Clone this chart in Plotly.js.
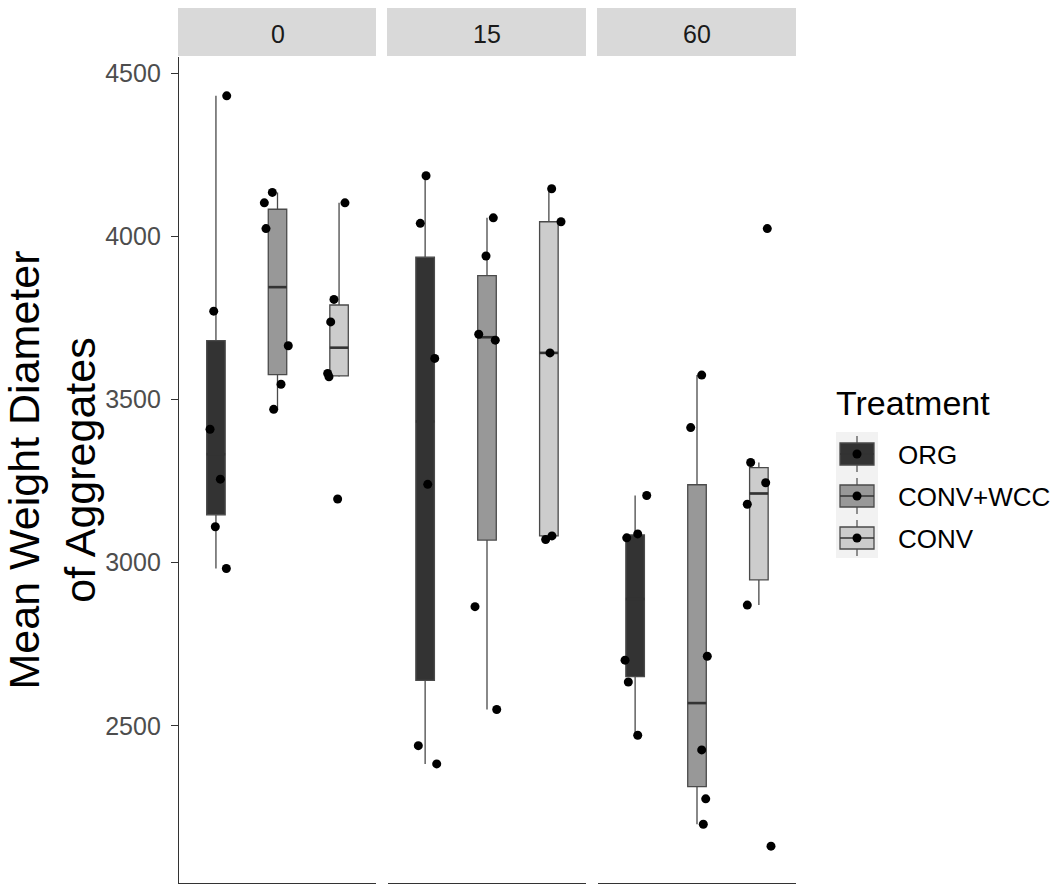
<!DOCTYPE html>
<html><head><meta charset="utf-8">
<script src="https://cdn.plot.ly/plotly-3.0.1.min.js"></script>
<style>html,body{margin:0;padding:0;background:#fff}</style>
</head><body><div id="chart" style="width:1060px;height:885px"></div>
<script>
// ---- data ----
const periods = ["0", "15", "60"];
const treatments = ["ORG", "CONV+WCC", "CONV"];

// Mean weight diameter of aggregates, one list per period (0, 15, 60)
const mwd_ORG = [
  [4431, 3771, 3409, 3256, 3110, 2982],
  [4186, 4040, 3626, 3240, 2439, 2383],
  [3206, 3076, 3088, 2701, 2634, 2471]
];
const mwd_WCC = [
  [4103, 4135, 4024, 3665, 3547, 3470],
  [4057, 3940, 3700, 3682, 2865, 2550],
  [3575, 3414, 2713, 2426, 2276, 2198]
];
const mwd_CONV = [
  [4103, 3807, 3738, 3580, 3570, 3195],
  [4146, 4045, 3643, 3071, 3082],
  [4024, 3307, 3245, 3179, 2870, 2131]
];
// horizontal jitter of each point (category units)
const jit_ORG = [
  [0.175, -0.036, -0.096, 0.072, -0.010, 0.169],
  [0.015, -0.078, 0.155, 0.042, -0.110, 0.187],
  [0.187, -0.136, 0.042, -0.163, -0.110, 0.042]
];
const jit_WCC = [
  [-0.214, -0.084, -0.187, 0.175, 0.057, -0.062],
  [0.102, -0.016, -0.134, 0.134, -0.194, 0.157],
  [0.076, -0.102, 0.166, 0.076, 0.141, 0.102]
];
const jit_CONV = [
  [0.096, -0.083, -0.136, -0.185, -0.164, -0.023],
  [0.045, 0.196, 0.018, -0.052, 0.050],
  [0.136, -0.133, 0.110, -0.187, -0.187, 0.196]
];
const yTicks = [2500, 3000, 3500, 4000, 4500];

// ---- styles ----
const FONT = "Liberation Sans, Arial, sans-serif";
const fills = ["#333333", "#989898", "#CCCCCC"];
const LINE = "#333333";
const BOXLINE = "#4A4A4A";
const BOXW = 0.3;

const values = [mwd_ORG, mwd_WCC, mwd_CONV];
const jitters = [jit_ORG, jit_WCC, jit_CONV];

function q7(s, p) {
  const h = (s.length - 1) * p, lo = Math.floor(h), hi = Math.ceil(h);
  return s[lo] + (h - lo) * (s[hi] - s[lo]);
}
function stats(v) {
  const s = v.slice().sort((a, b) => a - b);
  const q1 = q7(s, 0.25), med = q7(s, 0.5), q3 = q7(s, 0.75), iqr = q3 - q1;
  const lo = Math.min(...s.filter(d => d >= q1 - 1.5 * iqr));
  const hi = Math.max(...s.filter(d => d <= q3 + 1.5 * iqr));
  return {q1, med, q3, lo, hi};
}

const axNames = ["x", "x2", "x3"];
const traces = [];
periods.forEach((p, pi) => {
  treatments.forEach((t, ti) => {
    const v = values[ti][pi];
    const st = stats(v);
    traces.push({
      type: "box", x: [ti + 1], q1: [st.q1], median: [st.med], q3: [st.q3],
      lowerfence: [st.lo], upperfence: [st.hi],
      xaxis: axNames[pi], yaxis: "y", width: BOXW, whiskerwidth: 0,
      fillcolor: fills[ti], line: {color: BOXLINE, width: 1.3},
      boxpoints: false, showlegend: false, hoverinfo: "skip", name: t
    });
    // thicker median bar, as ggplot draws it
    traces.push({
      type: "scatter", mode: "lines",
      x: [ti + 1 - BOXW / 2, ti + 1 + BOXW / 2], y: [st.med, st.med],
      xaxis: axNames[pi], yaxis: "y", line: {color: LINE, width: 2.6},
      showlegend: false, hoverinfo: "skip", name: t + " median"
    });
  });
  treatments.forEach((t, ti) => {
    const v = values[ti][pi];
    traces.push({
      type: "scatter", mode: "markers",
      x: v.map((d, i) => ti + 1 + jitters[ti][pi][i]), y: v,
      xaxis: axNames[pi], yaxis: "y",
      marker: {color: "#000000", size: 9}, showlegend: false, name: t
    });
  });
});

// ---- layout helpers (pixel -> paper) ----
const L = 179, R = 796, T = 57, B = 883;
const PX = px => (px - L) / (R - L);
const PY = py => (B - py) / (B - T);
const panelPx = [[179, 376], [388, 586], [598, 796]];

const shapes = [], annotations = [];
periods.forEach((p, pi) => {
  const [a, b] = panelPx[pi];
  shapes.push({type: "rect", xref: "paper", yref: "paper", x0: PX(a - 1), x1: PX(b), y0: PY(56), y1: PY(8),
    fillcolor: "#D9D9D9", line: {width: 0}});
  annotations.push({xref: "paper", yref: "paper", x: PX((a + b) / 2), y: PY(34), text: p, showarrow: false,
    xanchor: "center", yanchor: "middle", font: {family: FONT, size: 25, color: "#1A1A1A"}});
});

// legend (drawn by hand to match the key glyphs)
annotations.push({xref: "paper", yref: "paper", x: PX(834), y: PY(403), text: "Treatment", showarrow: false,
  xanchor: "left", yanchor: "middle", font: {family: FONT, size: 34, color: "#000000"}});
shapes.push({type: "rect", xref: "paper", yref: "paper", x0: PX(836), x1: PX(878), y0: PY(558), y1: PY(432),
  fillcolor: "#F2F2F2", line: {width: 0}});
treatments.forEach((t, ti) => {
  const top = 432 + ti * 42, cy = top + 22, cx = 857;
  shapes.push({type: "line", xref: "paper", yref: "paper", x0: PX(cx), x1: PX(cx), y0: PY(top + 4), y1: PY(top + 40),
    line: {color: BOXLINE, width: 1.2}});
  shapes.push({type: "rect", xref: "paper", yref: "paper", x0: PX(840), x1: PX(874), y0: PY(cy + 11), y1: PY(cy - 11),
    fillcolor: fills[ti], line: {color: BOXLINE, width: 1.3}});
  shapes.push({type: "line", xref: "paper", yref: "paper", x0: PX(840), x1: PX(874), y0: PY(cy), y1: PY(cy),
    line: {color: LINE, width: 1.6}});
  shapes.push({type: "circle", xref: "paper", yref: "paper", x0: PX(cx - 4.5), x1: PX(cx + 4.5), y0: PY(cy + 4.5), y1: PY(cy - 4.5),
    fillcolor: "#000000", line: {width: 0}});
  annotations.push({xref: "paper", yref: "paper", x: PX(896), y: PY(cy + 1), text: t, showarrow: false,
    xanchor: "left", yanchor: "middle", font: {family: FONT, size: 26, color: "#000000"}});
});

const xBase = {range: [0.4, 3.6], showticklabels: false, ticks: "", showgrid: false, zeroline: false,
  showline: true, linecolor: LINE, linewidth: 1.2, anchor: "y", fixedrange: true};

const layout = {
  width: 1060, height: 885,
  margin: {l: L, r: 1060 - R, t: T, b: 885 - B},
  paper_bgcolor: "#FFFFFF", plot_bgcolor: "#FFFFFF",
  showlegend: false, font: {family: FONT},
  xaxis: Object.assign({}, xBase, {domain: [PX(179), PX(376)]}),
  xaxis2: Object.assign({}, xBase, {domain: [PX(388), PX(586)]}),
  xaxis3: Object.assign({}, xBase, {domain: [PX(598), PX(796)]}),
  yaxis: {
    range: [2018, 4550], tickvals: yTicks, ticktext: yTicks.map(String),
    ticks: "outside", ticklen: 7, tickwidth: 1.2, tickcolor: LINE,
    showline: true, linecolor: LINE, linewidth: 1.2, showgrid: false, zeroline: false,
    anchor: "x", ticklabelstandoff: 5,
    tickfont: {family: FONT, size: 25, color: "#4D4D4D"},
    title: {text: "Mean Weight Diameter<br>of Aggregates", standoff: 12,
      font: {family: FONT, size: 43, color: "#000000"}},
    fixedrange: true
  },
  shapes: shapes, annotations: annotations
};

Plotly.newPlot("chart", traces, layout, {displayModeBar: false, staticPlot: true});
</script>
</body></html>
